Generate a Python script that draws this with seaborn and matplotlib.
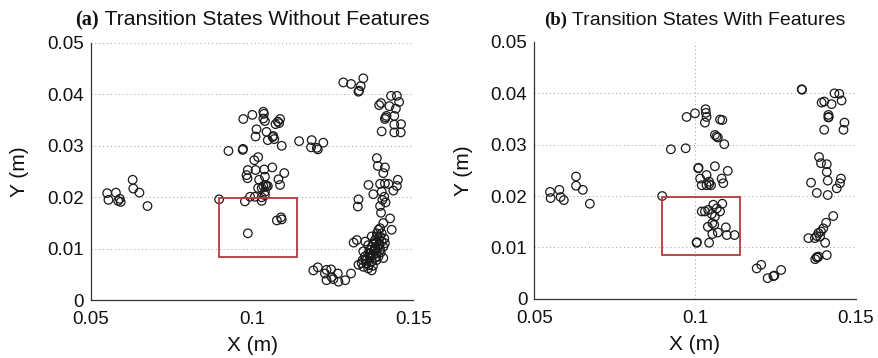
import matplotlib
matplotlib.use("Agg")
import matplotlib.pyplot as plt
from matplotlib.patches import Rectangle
from matplotlib.ticker import MultipleLocator
import pandas as pd
import seaborn as sns

sns.set_style("white")
plt.rcParams["font.family"] = ["Liberation Sans", "DejaVu Sans"]

# Transition states found without features: (x, y) in metres
states_without = [
    (0.0551, 0.0208), (0.0555, 0.0195), (0.0578, 0.0209), (0.0585, 0.0193),
    (0.0593, 0.0191), (0.0590, 0.0197), (0.0630, 0.0234), (0.0632, 0.0217),
    (0.0651, 0.0209), (0.0676, 0.0183),
    (0.1283, 0.0423), (0.1307, 0.0420), (0.1345, 0.0431), (0.1337, 0.0416),
    (0.1332, 0.0407), (0.1330, 0.0405),
    (0.1431, 0.0397), (0.1449, 0.0397), (0.1456, 0.0385), (0.1394, 0.0379),
    (0.1400, 0.0383), (0.1426, 0.0377), (0.1446, 0.0372), (0.1414, 0.0355),
    (0.1412, 0.0352), (0.1417, 0.0358), (0.1441, 0.0358), (0.1462, 0.0342),
    (0.1441, 0.0341), (0.1402, 0.0328), (0.1441, 0.0326), (0.1461, 0.0326),
    (0.0973, 0.0352), (0.1001, 0.0360), (0.1035, 0.0366), (0.1037, 0.0362),
    (0.1035, 0.0353), (0.1040, 0.0348), (0.1080, 0.0347), (0.1087, 0.0352),
    (0.1084, 0.0344), (0.1073, 0.0342), (0.1014, 0.0332), (0.1011, 0.0318),
    (0.1045, 0.0327), (0.1049, 0.0311), (0.1064, 0.0317), (0.1069, 0.0313),
    (0.1066, 0.0319), (0.1092, 0.0300),
    (0.1146, 0.0309), (0.1185, 0.0311), (0.1183, 0.0297), (0.1201, 0.0296),
    (0.1204, 0.0293), (0.1221, 0.0306),
    (0.0927, 0.0290), (0.0971, 0.0292), (0.0972, 0.0294),
    (0.1007, 0.0272), (0.1019, 0.0278), (0.0987, 0.0253), (0.1011, 0.0253),
    (0.0983, 0.0243), (0.0986, 0.0237), (0.1038, 0.0254), (0.1063, 0.0258),
    (0.1100, 0.0247), (0.1082, 0.0235), (0.1087, 0.0224), (0.1022, 0.0234),
    (0.1040, 0.0240), (0.1042, 0.0224), (0.1045, 0.0221), (0.1035, 0.0222),
    (0.1019, 0.0218), (0.1030, 0.0218), (0.1049, 0.0222), (0.1040, 0.0211),
    (0.0994, 0.0201), (0.0978, 0.0192), (0.1009, 0.0201), (0.1030, 0.0200),
    (0.1040, 0.0204), (0.1030, 0.0193),
    (0.0898, 0.0196),
    (0.0987, 0.0130), (0.1077, 0.0155), (0.1090, 0.0161), (0.1092, 0.0157),
    (0.1387, 0.0276), (0.1390, 0.0261), (0.1412, 0.0258), (0.1407, 0.0247),
    (0.1361, 0.0224), (0.1397, 0.0226), (0.1412, 0.0227), (0.1423, 0.0226),
    (0.1452, 0.0234), (0.1449, 0.0222), (0.1438, 0.0213), (0.1376, 0.0206),
    (0.1402, 0.0211), (0.1410, 0.0201), (0.1404, 0.0195), (0.1414, 0.0190),
    (0.1397, 0.0183), (0.1400, 0.0170), (0.1330, 0.0196), (0.1328, 0.0182),
    (0.1428, 0.0159), (0.1433, 0.0137), (0.1407, 0.0150), (0.1397, 0.0140),
    (0.1315, 0.0112), (0.1325, 0.0117), (0.1351, 0.0114), (0.1371, 0.0124),
    (0.1387, 0.0130), (0.1397, 0.0124), (0.1402, 0.0114), (0.1392, 0.0107),
    (0.1381, 0.0101), (0.1366, 0.0098), (0.1345, 0.0095), (0.1360, 0.0091),
    (0.1376, 0.0088), (0.1392, 0.0085), (0.1407, 0.0082), (0.1386, 0.0078),
    (0.1371, 0.0075), (0.1355, 0.0072), (0.1340, 0.0072), (0.1330, 0.0069),
    (0.1345, 0.0065), (0.1360, 0.0062), (0.1371, 0.0058), (0.1381, 0.0098),
    (0.1397, 0.0098), (0.1407, 0.0104), (0.1376, 0.0111), (0.1360, 0.0107),
    (0.1350, 0.0085), (0.1366, 0.0082), (0.1381, 0.0117), (0.1392, 0.0137),
    (0.1402, 0.0130), (0.1412, 0.0111), (0.1387, 0.0091), (0.1355, 0.0078),
    (0.1372, 0.0104), (0.1384, 0.0112), (0.1394, 0.0119), (0.1365, 0.0092),
    (0.1378, 0.0095), (0.1390, 0.0102), (0.1352, 0.0080), (0.1368, 0.0086),
    (0.1383, 0.0083), (0.1399, 0.0093), (0.1343, 0.0078), (0.1362, 0.0068),
    (0.1375, 0.0067), (0.1395, 0.0109), (0.1410, 0.0120), (0.1388, 0.0124),
    (0.1190, 0.0058), (0.1204, 0.0064), (0.1226, 0.0052), (0.1231, 0.0039),
    (0.1245, 0.0060), (0.1247, 0.0045), (0.1252, 0.0041), (0.1266, 0.0052),
    (0.1268, 0.0036), (0.1289, 0.0039), (0.1307, 0.0052), (0.1231, 0.0059),
]

# Transition states found with features: (x, y) in metres
states_with = [
    (0.0549, 0.0208), (0.0551, 0.0196), (0.0578, 0.0212), (0.0582, 0.0198),
    (0.0592, 0.0192), (0.0630, 0.0220), (0.0630, 0.0238), (0.0651, 0.0212),
    (0.0673, 0.0185),
    (0.1332, 0.0408), (0.1333, 0.0407),
    (0.1434, 0.0400), (0.1449, 0.0399), (0.1456, 0.0386), (0.1394, 0.0382),
    (0.1402, 0.0384), (0.1425, 0.0379), (0.1415, 0.0358), (0.1415, 0.0353),
    (0.1416, 0.0354), (0.1465, 0.0343), (0.1462, 0.0329), (0.1402, 0.0329),
    (0.0974, 0.0354), (0.1000, 0.0361), (0.1033, 0.0369), (0.1034, 0.0362),
    (0.1036, 0.0354), (0.1031, 0.0343), (0.1078, 0.0349), (0.1085, 0.0348),
    (0.1062, 0.0319), (0.1067, 0.0316), (0.1071, 0.0314), (0.1091, 0.0301),
    (0.0925, 0.0291), (0.0971, 0.0293),
    (0.1010, 0.0254), (0.1011, 0.0255), (0.1062, 0.0258), (0.1102, 0.0249),
    (0.1036, 0.0241), (0.1016, 0.0234), (0.1083, 0.0234), (0.1088, 0.0225),
    (0.1021, 0.0221), (0.1036, 0.0221), (0.1044, 0.0223), (0.1050, 0.0221),
    (0.1044, 0.0228),
    (0.0898, 0.0200),
    (0.1021, 0.0170), (0.1031, 0.0170), (0.1041, 0.0173), (0.1057, 0.0183),
    (0.1085, 0.0185), (0.1068, 0.0176), (0.1078, 0.0170), (0.1052, 0.0165),
    (0.1062, 0.0160), (0.1054, 0.0147), (0.1060, 0.0144), (0.1040, 0.0140),
    (0.1071, 0.0129), (0.1096, 0.0139), (0.1099, 0.0124), (0.1123, 0.0124),
    (0.1054, 0.0126), (0.1044, 0.0109), (0.1005, 0.0109), (0.1006, 0.0110),
    (0.1386, 0.0276), (0.1392, 0.0264), (0.1410, 0.0262), (0.1410, 0.0247),
    (0.1361, 0.0226), (0.1413, 0.0230), (0.1454, 0.0234), (0.1451, 0.0225),
    (0.1441, 0.0215), (0.1379, 0.0206), (0.1413, 0.0202),
    (0.1430, 0.0161), (0.1408, 0.0148), (0.1399, 0.0137), (0.1392, 0.0131),
    (0.1384, 0.0128), (0.1379, 0.0122), (0.1353, 0.0118), (0.1373, 0.0118),
    (0.1389, 0.0121), (0.1405, 0.0109), (0.1379, 0.0081), (0.1380, 0.0080),
    (0.1374, 0.0077), (0.1384, 0.0082), (0.1410, 0.0085),
    (0.1192, 0.0059), (0.1206, 0.0066), (0.1226, 0.0040), (0.1244, 0.0044),
    (0.1247, 0.0045), (0.1268, 0.0056),
]

# Highlighted region (x0, x1, y0, y1)
region = (0.0898, 0.1141, 0.0085, 0.0198)

x_ticks = [0.05, 0.1, 0.15]
x_tick_labels = ["0.05", "0.1", "0.15"]
y_ticks = [0, 0.01, 0.02, 0.03, 0.04, 0.05]
y_tick_labels = ["0", "0.01", "0.02", "0.03", "0.04", "0.05"]

panels = [
    dict(tag="(a)", title="Transition States Without Features", points=states_without,
         rect=[0.1032, 0.1612, 0.3670, 0.7193], title_size=15.2,
         hgrid=[0.01, 0.02, 0.03, 0.04, 0.05], vgrid=[0.15]),
    dict(tag="(b)", title="Transition States With Features", points=states_with,
         rect=[0.6078, 0.1656, 0.3657, 0.7171], title_size=14.0,
         hgrid=[0.01, 0.02, 0.03, 0.04], vgrid=[0.1, 0.15]),
]

fig = plt.figure(figsize=(8.79, 3.58), dpi=100)
renderer = fig.canvas.get_renderer()
grid_style = dict(color="#9a9a9a", linestyle=(0, (1, 3)), linewidth=0.7, zorder=0)

for p in panels:
    ax = fig.add_axes(p["rect"])
    df = pd.DataFrame(p["points"], columns=["x", "y"])
    sns.scatterplot(data=df, x="x", y="y", ax=ax, marker="o", s=38,
                    facecolor="none", edgecolor="#1a1a1a", linewidth=0.9,
                    legend=False, zorder=3)
    ax.set_xlim(0.05, 0.15)
    ax.set_ylim(0, 0.05)
    for yv in p["hgrid"]:
        ax.axhline(yv, **grid_style)
    for xv in p["vgrid"]:
        ax.axvline(xv, **grid_style)

    x0, x1, y0, y1 = region
    ax.add_patch(Rectangle((x0, y0), x1 - x0, y1 - y0, fill=False,
                           edgecolor="#b23a3a", linewidth=1.3, zorder=4))

    ax.set_xticks(x_ticks)
    ax.set_xticklabels(x_tick_labels)
    ax.set_yticks(y_ticks)
    ax.set_yticklabels(y_tick_labels)
    ax.xaxis.set_minor_locator(MultipleLocator(0.0025))
    ax.yaxis.set_minor_locator(MultipleLocator(0.001))
    ax.tick_params(axis="both", which="major", direction="in", length=4,
                   width=0.8, color="#333333", labelsize=13.5, labelcolor="#111111")
    ax.tick_params(axis="y", which="major", pad=5)
    ax.tick_params(axis="x", which="major", pad=8)
    ax.tick_params(axis="both", which="minor", direction="in", length=2,
                   width=0.5, color="#555555")
    for side in ("top", "right"):
        ax.spines[side].set_visible(False)
    for side in ("left", "bottom"):
        ax.spines[side].set_color("#333333")
        ax.spines[side].set_linewidth(0.9)

    ax.set_xlabel("X (m)", fontsize=15, color="#111111")
    ax.set_ylabel("Y (m)", fontsize=15, color="#111111")
    ax.xaxis.set_label_coords(0.5, -0.14)
    ax.yaxis.set_label_coords(-0.19, 0.5)

    # Title: bold serif tag followed by sans-serif text, centred over the axes
    size = p["title_size"]
    t1 = fig.text(0, 0.930, p["tag"], fontsize=size - 0.5, fontweight="bold",
                  family=["Liberation Serif", "DejaVu Serif"], va="baseline", color="#111111")
    t2 = fig.text(0, 0.930, " " + p["title"], fontsize=size, va="baseline", color="#111111")
    w1 = t1.get_window_extent(renderer).width / fig.bbox.width
    w2 = t2.get_window_extent(renderer).width / fig.bbox.width
    bb = ax.get_position()
    start = (bb.x0 + bb.x1) / 2 - (w1 + w2) / 2
    t1.set_x(start)
    t2.set_x(start + w1)

fig.savefig("out.png", dpi=100)
